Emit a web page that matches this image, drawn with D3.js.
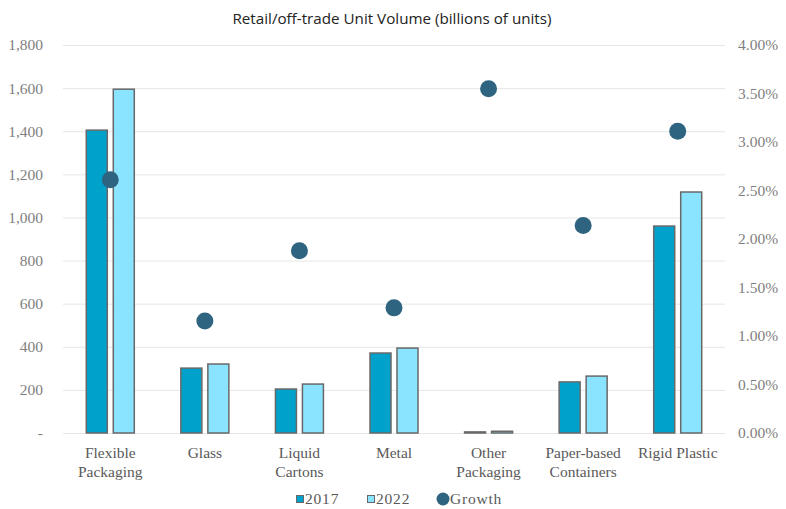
<!DOCTYPE html>
<html><head><meta charset="utf-8">
<script src="https://cdn.jsdelivr.net/npm/d3@7"></script>
<style>body{margin:0;background:#fff}</style>
</head><body><svg id="c" width="786" height="509"></svg>
<script>
const categories = [["Flexible","Packaging"],["Glass"],["Liquid","Cartons"],["Metal"],["Other","Packaging"],["Paper-based","Containers"],["Rigid Plastic"]];
const v2017 = [1405, 301, 204, 371, 5, 237, 960];
const v2022 = [1595, 320, 227, 394, 8, 264, 1118];
const growth = [0.0261, 0.01155, 0.0188, 0.0129, 0.0355, 0.0214, 0.0311];
const leftTicks = [0,200,400,600,800,1000,1200,1400,1600,1800];
const rightTicks = [0,0.005,0.01,0.015,0.02,0.025,0.03,0.035,0.04];

const svg = d3.select("#c");
const L = 63, R = 725, T = 45, B = 433;
const serif = "'Liberation Serif', serif";
const fs = "15.5px";
const x = d3.scaleBand().domain(d3.range(categories.length)).range([L, R]);
const y = d3.scaleLinear().domain([0,1800]).range([B, T]);
const y2 = d3.scaleLinear().domain([0,0.04]).range([B, T]);

svg.append("text").attr("x",392).attr("y",24).attr("text-anchor","middle")
  .style("font-family","'Open Sans', sans-serif").style("font-size","15.2px").attr("fill","#222")
  .text("Retail/off-trade Unit Volume (billions of units)");

// grid
svg.append("g").selectAll("line").data(leftTicks).join("line")
  .attr("x1",L).attr("x2",R).attr("y1",d=>y(d)+0.5).attr("y2",d=>y(d)+0.5)
  .attr("stroke","#e6e6e6").attr("stroke-width",1);

const gl = svg.append("g").attr("transform",`translate(${L-10},0)`)
  .call(d3.axisLeft(y).tickValues(leftTicks).tickSize(0).tickFormat(d=>d===0?"-":d3.format(",")(d)));
gl.select(".domain").remove();
gl.selectAll("text").style("font-family",serif).style("font-size",fs).attr("fill","#7f7f7f").attr("dx","-7");

const gr = svg.append("g").attr("transform",`translate(${R+10},0)`)
  .call(d3.axisRight(y2).tickValues(rightTicks).tickSize(0).tickFormat(d3.format(".2%")));
gr.select(".domain").remove();
gr.selectAll("text").style("font-family",serif).style("font-size",fs).attr("fill","#7f7f7f");

const bw = 21, gap = 6;
const cx = i => x(i) + x.bandwidth()/2;
svg.append("g").selectAll("rect").data(v2017).join("rect")
  .attr("x",(d,i)=>cx(i)-gap/2-bw).attr("width",bw)
  .attr("y",d=>y(d)).attr("height",d=>B-y(d))
  .attr("fill","#00A2CC").attr("stroke","#686868").attr("stroke-width",1.5);
svg.append("g").selectAll("rect").data(v2022).join("rect")
  .attr("x",(d,i)=>cx(i)+gap/2).attr("width",bw)
  .attr("y",d=>y(d)).attr("height",d=>B-y(d))
  .attr("fill","#8AE4FF").attr("stroke","#686868").attr("stroke-width",1.5);

svg.append("g").selectAll("circle").data(growth).join("circle")
  .attr("cx",(d,i)=>cx(i)).attr("cy",d=>y2(d)).attr("r",8.5).attr("fill","#2F6480");

// category labels
const cl = svg.append("g").selectAll("text").data(categories).join("text")
  .attr("x",(d,i)=>cx(i)).attr("y",457.5).attr("text-anchor","middle")
  .style("font-family",serif).style("font-size",fs).attr("fill","#595959");
cl.selectAll("tspan").data(d=>d).join("tspan").attr("x",function(){return this.parentNode.getAttribute("x");})
  .attr("dy",(d,i)=>i===0?0:19).text(d=>d);

// legend
const lg = svg.append("g").style("font-family",serif).style("font-size",fs).attr("fill","#595959").style("letter-spacing","0.8px");
lg.append("rect").attr("x",296.5).attr("y",495.5).attr("width",7).attr("height",7).attr("fill","#00A2CC").attr("stroke","#686868");
lg.append("text").attr("x",305).attr("y",503.5).text("2017");
lg.append("rect").attr("x",367.5).attr("y",495.5).attr("width",7).attr("height",7).attr("fill","#8AE4FF").attr("stroke","#686868");
lg.append("text").attr("x",376).attr("y",503.5).text("2022");
lg.append("circle").attr("cx",443).attr("cy",499).attr("r",6.5).attr("fill","#2F6480");
lg.append("text").attr("x",450).attr("y",503.5).text("Growth");
</script></body></html>
